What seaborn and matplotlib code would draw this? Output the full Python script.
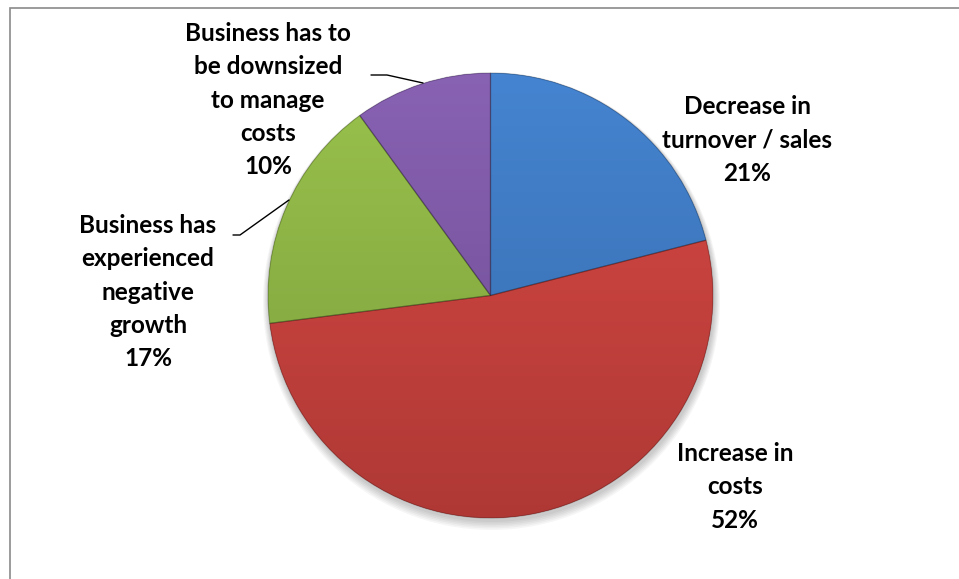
import numpy as np
import matplotlib
matplotlib.use("Agg")
import matplotlib.pyplot as plt
import matplotlib.colors as mcolors
from matplotlib.patches import Rectangle, Circle, Wedge
import seaborn as sns

# Reasons for business difficulty (share of respondents, %)
categories = [
    "Decrease in\nturnover / sales",
    "Increase in\ncosts",
    "Business has\nexperienced\nnegative\ngrowth",
    "Business has to\nbe downsized\nto manage\ncosts",
]
shares = [21, 52, 17, 10]
slice_colors = ["#3d79c2", "#c9413d", "#8db444", "#7d58a6"]

sns.set_theme(style="white")
plt.rcParams["font.family"] = ["Lato", "DejaVu Sans"]

W, H = 959, 579
fig = plt.figure(figsize=(W / 100, H / 100), dpi=100)
fig.patch.set_facecolor("white")
ax = fig.add_axes([0, 0, 1, 1])

cx, cy, R = 490.5, 295.5, 222.5

# soft drop shadow under the pie
for i in range(6):
    ax.add_patch(Circle((cx + 1, cy + 3 + i * 0.6), R + 1 + i, facecolor="black",
                        edgecolor="none", alpha=0.035, zorder=1))

# the y axis points down (pixel space), so counter-clockwise in data
# reads clockwise on screen, starting from the top of the pie
wedges, _ = ax.pie(
    shares,
    colors=slice_colors,
    startangle=-90,
    counterclock=True,
    center=(cx, cy),
    radius=R,
    wedgeprops=dict(linewidth=0),
)

ax.set_xlim(0, W)
ax.set_ylim(H, 0)
ax.set_aspect("equal")
ax.axis("off")

# vertical shading on each slice: lighter at the top, darker at the bottom
for w, c in zip(wedges, slice_colors):
    base = np.array(mcolors.to_rgb(c))
    light = np.clip(base * 1.05 + 0.02, 0, 1)
    dark = base * 0.87
    t = np.linspace(0, 1, 256)[:, None]
    grad = light[None, :] * (1 - t) + dark[None, :] * t
    img = np.repeat(grad[:, None, :], 2, axis=1)
    im = ax.imshow(img, extent=(cx - R, cx + R, cy + R, cy - R), origin="upper",
                   interpolation="bilinear", zorder=w.get_zorder() + 0.1, aspect="auto")
    im.set_clip_path(w)

# slice outlines on top of the shading
for w in wedges:
    ax.add_patch(Wedge(w.center, w.r, w.theta1, w.theta2, facecolor="none",
                       edgecolor="#00000038", linewidth=0.9, zorder=5))

ax.set_xlim(0, W)
ax.set_ylim(H, 0)

label_text = [f"{c}\n{s}%" for c, s in zip(categories, shares)]
label_pos = [(747, 140), (735, 487), (148, 292), (268, 100)]
for txt, (x, y) in zip(label_text, label_pos):
    ax.text(x, y, txt, ha="center", va="center", fontsize=17.5, fontweight="bold",
            color="black", linespacing=1.53, zorder=6)

# leader lines for the two small slices
ax.plot([371, 387, 423], [75, 75, 83], color="black", lw=1.0, zorder=6)
ax.plot([233, 240, 289], [235, 235, 200], color="black", lw=1.0, zorder=6)

# chart area frame
fig.add_artist(Rectangle((9.5 / W, -0.1), 1.2, 1 - 7.5 / H + 0.1, transform=fig.transFigure,
                         facecolor="none", edgecolor="#8a8a8a", linewidth=1.2))

fig.savefig("out.png", dpi=100, facecolor="white")
